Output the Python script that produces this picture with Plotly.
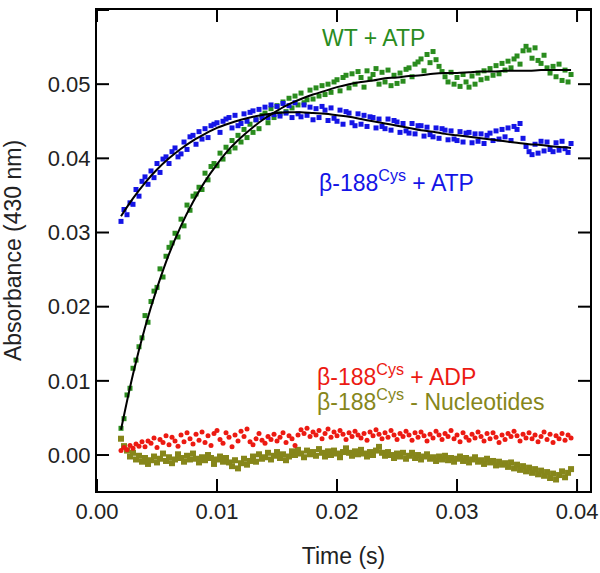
import plotly.graph_objects as go

# sampling times (s), stopped-flow traces recorded every 0.25 ms
time_s = [round(0.002 + 0.00025 * i, 5) for i in range(151)]

wt_atp = [
    0.0036, 0.0049, 0.0081, 0.0090, 0.0117, 0.0128, 0.0146, 0.0158,
    0.0188, 0.0179, 0.0207, 0.0221, 0.0226, 0.0251, 0.0240, 0.0268,
    0.0280, 0.0286, 0.0299, 0.0294, 0.0318, 0.0309, 0.0337, 0.0330,
    0.0349, 0.0352, 0.0361, 0.0358, 0.0380, 0.0371, 0.0389, 0.0393,
    0.0390, 0.0407, 0.0399, 0.0415, 0.0409, 0.0424, 0.0414, 0.0431,
    0.0422, 0.0439, 0.0428, 0.0446, 0.0435, 0.0452, 0.0440, 0.0458,
    0.0461, 0.0448, 0.0467, 0.0455, 0.0471, 0.0460, 0.0476, 0.0463,
    0.0481, 0.0468, 0.0484, 0.0472, 0.0488, 0.0475, 0.0479, 0.0492,
    0.0480, 0.0495, 0.0484, 0.0498, 0.0486, 0.0500, 0.0489, 0.0503,
    0.0506, 0.0491, 0.0509, 0.0512, 0.0495, 0.0514, 0.0500, 0.0517,
    0.0509, 0.0496, 0.0518, 0.0507, 0.0513, 0.0521, 0.0500, 0.0516,
    0.0503, 0.0519, 0.0498, 0.0512, 0.0501, 0.0515, 0.0504, 0.0520,
    0.0522, 0.0510, 0.0527, 0.0530, 0.0534, 0.0518, 0.0540, 0.0529,
    0.0544, 0.0533, 0.0524, 0.0517, 0.0510, 0.0503, 0.0516, 0.0500,
    0.0509, 0.0497, 0.0513, 0.0503, 0.0496, 0.0511, 0.0500, 0.0515,
    0.0506, 0.0518, 0.0508, 0.0521, 0.0512, 0.0525, 0.0514, 0.0528,
    0.0519, 0.0531, 0.0522, 0.0534, 0.0538, 0.0527, 0.0545, 0.0551,
    0.0546, 0.0535, 0.0549, 0.0532, 0.0528, 0.0539, 0.0522, 0.0515,
    0.0524, 0.0510, 0.0527, 0.0505, 0.0519, 0.0503, 0.0513,
]

cys_atp = [
    0.0315, 0.0331, 0.0324, 0.0340, 0.0338, 0.0358, 0.0349, 0.0369,
    0.0375, 0.0365, 0.0383, 0.0374, 0.0393, 0.0381, 0.0399, 0.0402,
    0.0393, 0.0409, 0.0414, 0.0402, 0.0406, 0.0422, 0.0412, 0.0429,
    0.0431, 0.0419, 0.0436, 0.0426, 0.0440, 0.0428, 0.0444, 0.0446,
    0.0448, 0.0435, 0.0450, 0.0453, 0.0455, 0.0441, 0.0458, 0.0444,
    0.0447, 0.0460, 0.0450, 0.0462, 0.0464, 0.0452, 0.0466, 0.0455,
    0.0469, 0.0455, 0.0472, 0.0459, 0.0470, 0.0457, 0.0474, 0.0461,
    0.0471, 0.0455, 0.0475, 0.0460, 0.0456, 0.0472, 0.0458, 0.0469,
    0.0452, 0.0467, 0.0455, 0.0470, 0.0465, 0.0451, 0.0468, 0.0454,
    0.0450, 0.0465, 0.0446, 0.0463, 0.0461, 0.0448, 0.0444, 0.0460,
    0.0446, 0.0458, 0.0443, 0.0456, 0.0455, 0.0441, 0.0453, 0.0443,
    0.0440, 0.0453, 0.0438, 0.0451, 0.0449, 0.0435, 0.0447, 0.0437,
    0.0434, 0.0447, 0.0433, 0.0444, 0.0444, 0.0430, 0.0442, 0.0432,
    0.0429, 0.0441, 0.0427, 0.0440, 0.0438, 0.0425, 0.0437, 0.0426,
    0.0424, 0.0436, 0.0422, 0.0434, 0.0435, 0.0421, 0.0433, 0.0423,
    0.0433, 0.0420, 0.0431, 0.0434, 0.0424, 0.0437, 0.0426, 0.0439,
    0.0429, 0.0441, 0.0424, 0.0443, 0.0439, 0.0447, 0.0427, 0.0416,
    0.0409, 0.0405, 0.0419, 0.0407, 0.0423, 0.0410, 0.0422, 0.0412,
    0.0409, 0.0421, 0.0411, 0.0423, 0.0413, 0.0408, 0.0420,
]

cys_adp = [
    0.0006, 0.0010, 0.0007, 0.0013, 0.0009, 0.0015, 0.0012, 0.0018,
    0.0011, 0.0019, 0.0016, 0.0023, 0.0010, 0.0021, 0.0017, 0.0026,
    0.0014, 0.0024, 0.0019, 0.0012, 0.0027, 0.0018, 0.0030, 0.0022,
    0.0015, 0.0028, 0.0020, 0.0031, 0.0017, 0.0026, 0.0013, 0.0029,
    0.0033, 0.0021, 0.0016, 0.0030, 0.0024, 0.0011, 0.0027, 0.0019,
    0.0032, 0.0025, 0.0035, 0.0018, 0.0014, 0.0022, 0.0029, 0.0020,
    0.0016, 0.0025, 0.0021, 0.0028, 0.0019, 0.0024, 0.0030, 0.0017,
    0.0026, 0.0022, 0.0013, 0.0027, 0.0034, 0.0029, 0.0036, 0.0025,
    0.0031, 0.0027, 0.0033, 0.0022, 0.0029, 0.0035, 0.0024, 0.0031,
    0.0026, 0.0033, 0.0028, 0.0021, 0.0030, 0.0025, 0.0032, 0.0027,
    0.0023, 0.0029, 0.0020, 0.0031, 0.0026, 0.0034, 0.0028, 0.0022,
    0.0030, 0.0024, 0.0033, 0.0027, 0.0021, 0.0029, 0.0025, 0.0032,
    0.0027, 0.0020, 0.0030, 0.0024, 0.0031, 0.0026, 0.0019, 0.0028,
    0.0023, 0.0032, 0.0027, 0.0021, 0.0029, 0.0025, 0.0033, 0.0022,
    0.0027, 0.0018, 0.0030, 0.0024, 0.0020, 0.0028, 0.0023, 0.0031,
    0.0025, 0.0019, 0.0029, 0.0022, 0.0030, 0.0024, 0.0017, 0.0027,
    0.0021, 0.0029, 0.0025, 0.0032, 0.0026, 0.0019, 0.0028, 0.0023,
    0.0030, 0.0022, 0.0027, 0.0018, 0.0025, 0.0031, 0.0021, 0.0028,
    0.0017, 0.0026, 0.0022, 0.0029, 0.0020, 0.0027, 0.0023,
]

cys_none = [
    0.0022, 0.0012, 0.0006, -0.0002, 0.0003, -0.0006, -0.0001, -0.0009,
    -0.0004, -0.0012, -0.0007, -0.0002, -0.0010, -0.0005, 0.0002, -0.0008,
    -0.0003, -0.0011, -0.0006, 0.0001, -0.0004, -0.0009, -0.0001, -0.0006,
    0.0002, -0.0005, -0.0010, -0.0003, -0.0007, 0.0000, -0.0004, -0.0012,
    -0.0006, -0.0002, -0.0009, -0.0004, -0.0010, -0.0015, -0.0007, -0.0018,
    -0.0011, -0.0005, -0.0013, -0.0008, -0.0002, -0.0009, 0.0001, -0.0005,
    -0.0003, 0.0003, -0.0006, -0.0001, 0.0004, -0.0004, 0.0001, -0.0007,
    -0.0002, 0.0005, 0.0000, 0.0007, 0.0002, -0.0003, 0.0006, 0.0001,
    0.0004, -0.0001, 0.0008, 0.0003, -0.0002, 0.0005, 0.0000, 0.0006,
    0.0002, -0.0003, 0.0004, 0.0009, 0.0003, -0.0001, 0.0005, 0.0001,
    0.0007, 0.0002, -0.0002, 0.0004, 0.0000, 0.0006, 0.0011, 0.0003,
    -0.0001, 0.0004, 0.0000, -0.0004, 0.0002, -0.0002, 0.0003, -0.0005,
    -0.0001, 0.0003, -0.0004, 0.0000, -0.0006, -0.0002, 0.0001, -0.0005,
    -0.0003, -0.0008, -0.0002, -0.0006, -0.0001, -0.0007, -0.0004, -0.0009,
    -0.0005, -0.0002, -0.0008, -0.0004, -0.0010, -0.0006, -0.0003, -0.0009,
    -0.0007, -0.0012, -0.0005, -0.0010, -0.0008, -0.0014, -0.0009, -0.0013,
    -0.0011, -0.0016, -0.0010, -0.0018, -0.0013, -0.0020, -0.0015, -0.0022,
    -0.0017, -0.0024, -0.0019, -0.0026, -0.0021, -0.0028, -0.0023, -0.0031,
    -0.0025, -0.0033, -0.0027, -0.0022, -0.0030, -0.0024, -0.0019,
]

# fitted curves, read every 1 ms
fit_time = [
    0.002, 0.003, 0.004, 0.005, 0.006, 0.007, 0.008, 0.009, 0.010, 0.011,
    0.012, 0.013, 0.014, 0.015, 0.016, 0.017, 0.018, 0.019, 0.020, 0.021,
    0.022, 0.023, 0.024, 0.025, 0.026, 0.027, 0.028, 0.029, 0.030, 0.031,
    0.032, 0.033, 0.034, 0.035, 0.036, 0.037, 0.038, 0.039, 0.0395,
]
wt_fit = [
    0.0034, 0.0109, 0.0172, 0.0225, 0.0271, 0.0309, 0.0341, 0.0369, 0.0392, 0.0412,
    0.0428, 0.0442, 0.0454, 0.0464, 0.0473, 0.0480, 0.0486, 0.0491, 0.0496, 0.0500,
    0.0503, 0.0505, 0.0508, 0.0509, 0.0511, 0.0512, 0.0514, 0.0515, 0.0515, 0.0516,
    0.0517, 0.0517, 0.0518, 0.0518, 0.0518, 0.0519, 0.0519, 0.0519, 0.0519,
]
cys_fit = [
    0.0322, 0.0346, 0.0367, 0.0385, 0.0400, 0.0413, 0.0424, 0.0433, 0.0441, 0.0447,
    0.0452, 0.0456, 0.0459, 0.0461, 0.0462, 0.0462, 0.0461, 0.0460, 0.0458, 0.0456,
    0.0453, 0.0450, 0.0447, 0.0444, 0.0441, 0.0438, 0.0436, 0.0433, 0.0431, 0.0429,
    0.0427, 0.0425, 0.0423, 0.0421, 0.0419, 0.0418, 0.0416, 0.0415, 0.0414,
]

x_ticks = [0.0, 0.01, 0.02, 0.03, 0.04]
x_labels = ["0.00", "0.01", "0.02", "0.03", "0.04"]
y_ticks = [0.0, 0.01, 0.02, 0.03, 0.04, 0.05, 0.06]
y_labels = ["0.00", "0.01", "0.02", "0.03", "0.04", "0.05", "0.06"]

X_RANGE = [0, 0.04108]
Y_RANGE = [-0.00485, 0.06]

GREEN = "#2a8c1e"
BLUE = "#1414e6"
RED = "#ec1a12"
OLIVE = "#86861a"
FONT = "Liberation Sans, Arial, sans-serif"

W, H = 600, 573
MARGIN = dict(l=97, r=10, t=10, b=82)
TICK_PX = 12

fig = go.Figure()

fig.add_trace(go.Scatter(x=time_s, y=cys_none, mode="markers",
                         marker=dict(symbol="square", size=6, color=OLIVE)))
fig.add_trace(go.Scatter(x=time_s, y=cys_adp, mode="markers",
                         marker=dict(symbol="circle", size=5, color=RED)))
fig.add_trace(go.Scatter(x=time_s, y=wt_atp, mode="markers",
                         marker=dict(symbol="square", size=5, color=GREEN)))
fig.add_trace(go.Scatter(x=time_s, y=cys_atp, mode="markers",
                         marker=dict(symbol="square", size=5, color=BLUE)))
fig.add_trace(go.Scatter(x=fit_time, y=wt_fit, mode="lines", line_shape="spline",
                         line=dict(color="black", width=2)))
fig.add_trace(go.Scatter(x=fit_time, y=cys_fit, mode="lines", line_shape="spline",
                         line=dict(color="black", width=2)))

# inward tick marks on all four frame sides, drawn as one line trace
dx = TICK_PX * (X_RANGE[1] - X_RANGE[0]) / (W - MARGIN["l"] - MARGIN["r"])
dy = TICK_PX * (Y_RANGE[1] - Y_RANGE[0]) / (H - MARGIN["t"] - MARGIN["b"])
tx, ty = [], []
for t in x_ticks:
    tx += [t, t, None, t, t, None]
    ty += [Y_RANGE[0], Y_RANGE[0] + dy, None, Y_RANGE[1], Y_RANGE[1] - dy, None]
for v in y_ticks:
    tx += [X_RANGE[0], X_RANGE[0] + dx, None, X_RANGE[1], X_RANGE[1] - dx, None]
    ty += [v, v, None, v, v, None]
fig.add_trace(go.Scatter(x=tx, y=ty, mode="lines", hoverinfo="skip",
                         line=dict(color="black", width=2)))

# curve labels, left-aligned
labels = [
    (0.01858, 0.0562, "WT + ATP", GREEN),
    (0.01833, 0.0370, "β-188<sup>Cys</sup> + ATP", BLUE),
    (0.01817, 0.0108, "β-188<sup>Cys</sup> + ADP", RED),
    (0.01817, 0.0074, "β-188<sup>Cys</sup> - Nucleotides", OLIVE),
]
for lx, ly, txt, col in labels:
    fig.add_annotation(x=lx, y=ly, text=txt, showarrow=False, xanchor="left",
                       font=dict(family=FONT, size=23, color=col))

axis_style = dict(
    showline=True, linewidth=2, linecolor="black", mirror=True,
    ticks="", showgrid=False, zeroline=False, automargin=False,
    tickfont=dict(family=FONT, size=22, color="#222222"),
)

fig.update_xaxes(range=X_RANGE, tickvals=x_ticks, ticktext=x_labels,
                 title=dict(text="Time (s)", standoff=24,
                            font=dict(family=FONT, size=23, color="#222222")),
                 **axis_style)
fig.update_yaxes(range=Y_RANGE, tickvals=y_ticks, ticktext=y_labels,
                 ticksuffix=" ",
                 title=dict(text="Absorbance (430 nm)", standoff=20,
                            font=dict(family=FONT, size=23, color="#222222")),
                 **axis_style)

fig.update_layout(
    width=W, height=H,
    margin=MARGIN,
    plot_bgcolor="white", paper_bgcolor="white",
    showlegend=False,
)

fig.write_html("out.html", config={"displayModeBar": False},
               post_script="document.body.style.margin='0';document.body.style.overflow='hidden';")
